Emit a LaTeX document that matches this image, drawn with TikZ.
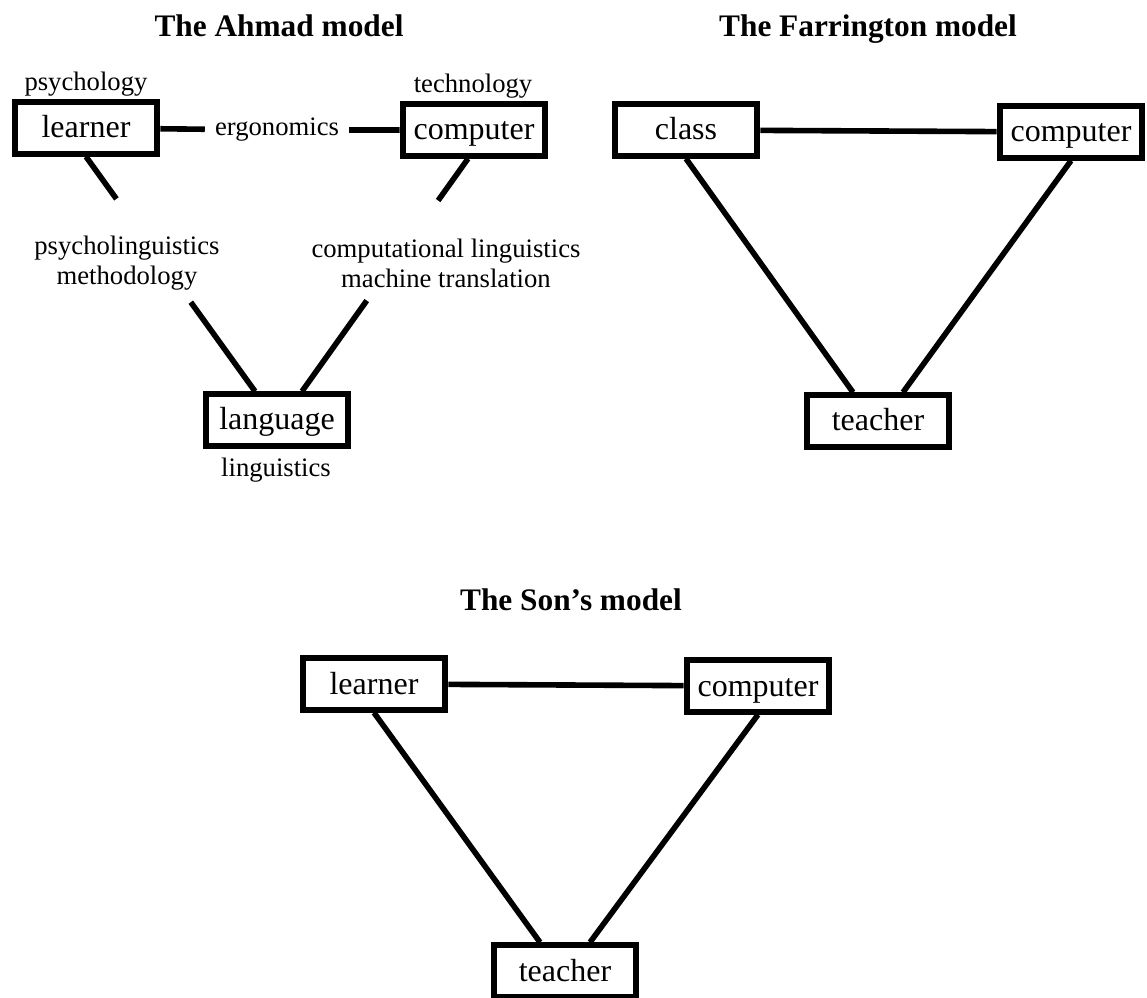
\documentclass[tikz,border=0pt]{standalone}
\usepackage{fontspec}
\setmainfont{Liberation Serif}
\usetikzlibrary{positioning}

\begin{document}
\begin{tikzpicture}[x=0.75pt,y=-0.75pt,
  box/.style={draw,line width=4.5pt,minimum width=107pt,minimum height=38.5pt,
              inner sep=0pt,text height=20pt,text depth=5pt,
              font=\fontsize{24}{28}\selectfont},
  lab/.style={inner sep=3pt,align=center,font=\fontsize{20}{22.5}\selectfont},
  ttl/.style={anchor=base,font=\fontsize{23.5}{27}\selectfont\bfseries},
  link/.style={line width=4.2pt}]
\useasboundingbox (0,0) rectangle (1147,998);

% Ahmad
\node[ttl] (tA) at (279,37) {The Ahmad model};
\node[box] (learnerA) at (86,128) {learner};
\node[box] (computerA) at (474,130) {computer};
\node[box] (languageA) at (277,420) {language};
\node[lab] (psy) at (86,84) {psychology};
\node[lab] (tech) at (473,86) {technology};
\node[lab] (ling) at (276,470) {linguistics};
\node[lab,inner xsep=7.5pt] (ergo) at (277,130) {ergonomics};
\node[lab] (psyl) at (127,263) {psycholinguistics\\methodology};
\node[lab] (compl) at (446,263) {computational linguistics\\machine translation};
\draw[link] (learnerA) -- (ergo) -- (computerA);
\path (learnerA.south) -- coordinate[pos=0.18] (gA1) coordinate[pos=0.62] (gA2)
      ([xshift=-16.5pt]languageA.north);
\path ([xshift=-4.5pt]computerA.south) -- coordinate[pos=0.18] (gB1) coordinate[pos=0.61] (gB2)
      ([xshift=18.75pt]languageA.north);
\draw[link] (learnerA.south) -- (gA1);
\draw[link] (gA2) -- ([xshift=-16.5pt]languageA.north);
\draw[link] ([xshift=-4.5pt]computerA.south) -- (gB1);
\draw[link] (gB2) -- ([xshift=18.75pt]languageA.north);

% Farrington
\node[ttl] (tF) at (868,37) {The Farrington model};
\node[box] (class) at (686,130) {class};
\node[box] (computerF) at (1071,132) {computer};
\node[box] (teacherF) at (878,421) {teacher};
\draw[link] (class) -- (computerF);
\draw[link] (class.south) -- ([xshift=-18.75pt]teacherF.north);
\draw[link] (computerF.south) -- ([xshift=18.75pt]teacherF.north);

% Son
\node[ttl] (tS) at (571,611) {The Son’s model};
\node[box] (learnerS) at (374,684) {learner};
\node[box] (computerS) at (758,686) {computer};
\node[box] (teacherS) at (565,971) {teacher};
\draw[link] (learnerS) -- (computerS);
\draw[link] (learnerS.south) -- ([xshift=-18.75pt]teacherS.north);
\draw[link] (computerS.south) -- ([xshift=18.75pt]teacherS.north);

\end{tikzpicture}
\end{document}
